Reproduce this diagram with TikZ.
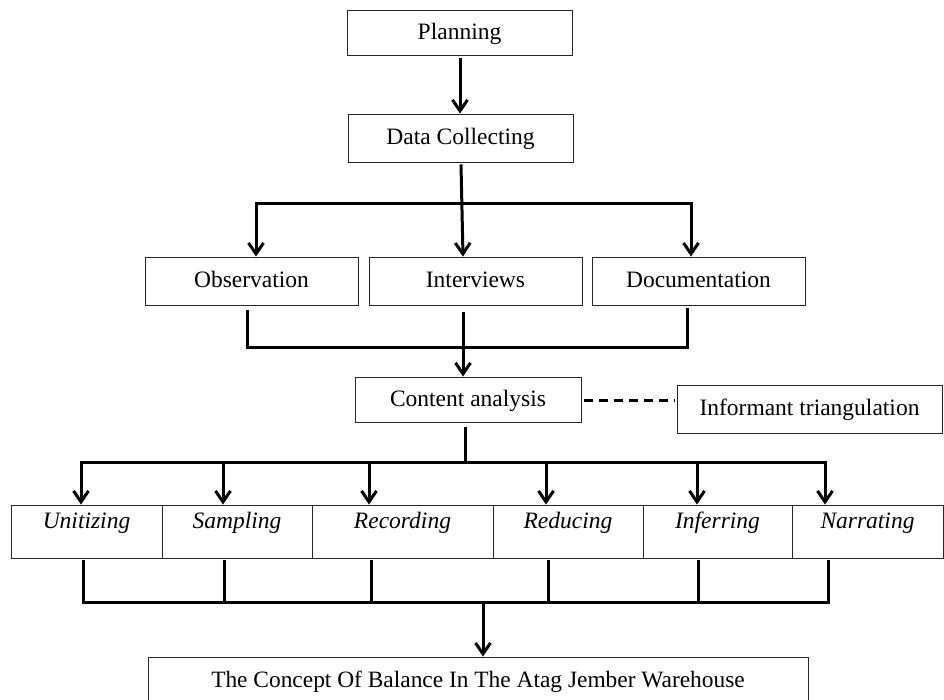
\documentclass[tikz,border=0pt]{standalone}
\usepackage{fontspec}
\setmainfont{Liberation Serif}
\usetikzlibrary{arrows.meta,calc}
\begin{document}
\begin{tikzpicture}[x=1pt,y=-1pt,
  box/.style={draw=black!85, line width=0.9pt, inner sep=0pt, text height=14pt, text depth=1pt,
    font=\fontsize{23.5}{28}\selectfont, align=center},
  rowbox/.style={box, minimum height=53pt, text height=15pt, text depth=21pt,
    font=\fontsize{23.5}{28}\selectfont\itshape},
  conn/.style={line width=3pt},
  arr/.style={conn, -{Straight Barb[length=11pt,width=15pt]}},
  arrboth/.style={conn, {Straight Barb[length=11pt,width=15pt]}-{Straight Barb[length=11pt,width=15pt]}},
  dashline/.style={line width=3pt, dash pattern=on 9pt off 6pt}
  ]
\useasboundingbox (0,0) rectangle (944,699);
\clip (0,0) rectangle (944,699);

% boxes
\node[box, minimum width=225pt, minimum height=45pt] (plan) at (459.5,32.5) {Planning};
\node[box, minimum width=225pt, minimum height=48pt] (dc) at (460.5,138) {Data Collecting};
\node[box, minimum width=213pt, minimum height=48pt] (obs) at (251.5,281) {Observation};
\node[box, minimum width=213pt, minimum height=48pt] (int) at (475.5,281) {Interviews};
\node[box, minimum width=213pt, minimum height=48pt] (doc) at (698.5,281) {Documentation};
\node[box, minimum width=226pt, minimum height=45pt] (ca) at (468,399.5) {Content analysis};
\node[box, minimum width=265pt, minimum height=48pt] (inf) at (809.5,409) {Informant triangulation};

\node[rowbox, minimum width=151pt] (u) at (86.5,531.5) {Unitizing};
\node[rowbox, minimum width=150pt] (s) at (237,531.5) {Sampling};
\node[rowbox, minimum width=181pt] (rec) at (402.5,531.5) {Recording};
\node[rowbox, minimum width=150pt] (red) at (568,531.5) {Reducing};
\node[rowbox, minimum width=149pt] (i) at (717.5,531.5) {Inferring};
\node[rowbox, minimum width=151pt] (n) at (867.5,531.5) {Narrating};

\node[box, minimum width=660pt, minimum height=48pt, font=\fontsize{23.4}{28}\selectfont] (bot) at (478,681)
  {The Concept Of Balance In The Atag Jember Warehouse};

% bus coordinates
\coordinate (busA) at (0,203);
\coordinate (busB) at (0,347.5);
\coordinate (busC) at (0,462);
\coordinate (busD) at (0,602);

% connectors
\draw[arr] ($(460,0 |- plan.south)+(0,3)$) -- (460,0 |- dc.north);
\draw[arr] ($(461,0 |- dc.south)+(0,2)$) -- (463,0 |- int.north);
\draw[arrboth] (256,0 |- obs.north) -- (256,0 |- busA) -- (691,0 |- busA) -- (691,0 |- doc.north);

\draw[conn] ($(247,0 |- obs.south)+(0,5)$) -- (247,0 |- busB) -- (687,0 |- busB) -- ($(687,0 |- doc.south)+(0,3)$);
\draw[arr] ($(463,0 |- int.south)+(0,7)$) -- (463,0 |- ca.north);

\draw[dashline] ($(ca.east)+(3,1)$) -- ($(inf.west |- ca.east)+(-2,1)$);

\draw[conn] ($(465,0 |- ca.south)+(0,5)$) -- (465,0 |- busC);
\draw[arrboth] (81,0 |- u.north) -- (81,0 |- busC) -- (825,0 |- busC) -- (825,0 |- n.north);
\draw[arr] (223,0 |- busC) -- (223,0 |- s.north);
\draw[arr] (369,0 |- busC) -- (369,0 |- rec.north);
\draw[arr] (546,0 |- busC) -- (546,0 |- red.north);
\draw[arr] (697,0 |- busC) -- (697,0 |- i.north);

\draw[conn] ($(83,0 |- u.south)+(0,2)$) -- (83,0 |- busD) -- (828,0 |- busD) -- ($(828,0 |- n.south)+(0,2)$);
\draw[conn] ($(224,0 |- s.south)+(0,2)$) -- (224,0 |- busD);
\draw[conn] ($(371,0 |- rec.south)+(0,2)$) -- (371,0 |- busD);
\draw[conn] ($(548,0 |- red.south)+(0,2)$) -- (548,0 |- busD);
\draw[conn] ($(698,0 |- i.south)+(0,2)$) -- (698,0 |- busD);
\draw[arr] (483,0 |- busD) -- (483,0 |- bot.north);
\end{tikzpicture}
\end{document}
